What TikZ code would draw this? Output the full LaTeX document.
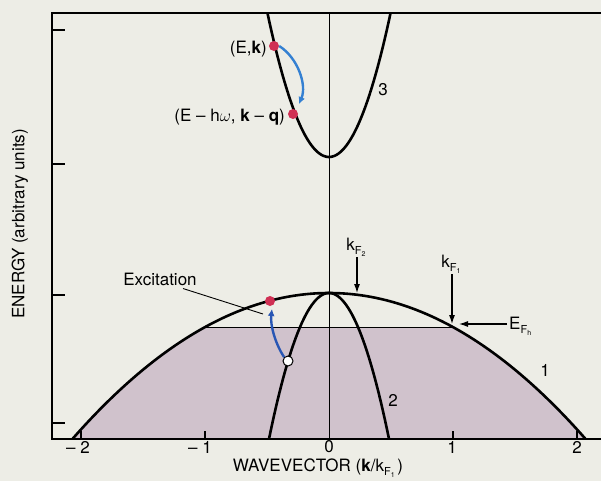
\documentclass[tikz,border=0pt]{standalone}
\usepackage{fontspec}
\setmainfont{TeX Gyre Heros}
\usetikzlibrary{arrows.meta}
\definecolor{bgcol}{RGB}{237,237,230}
\definecolor{shadecol}{RGB}{208,194,204}
\definecolor{dotred}{RGB}{208,48,84}
\definecolor{arrblue}{RGB}{52,128,210}
\definecolor{arrblueb}{RGB}{40,86,180}
\newcommand{\kFsub}[1]{k\raisebox{-0.45ex}{\fontsize{11}{12}\selectfont F\raisebox{-0.35ex}{\fontsize{7}{8}\selectfont #1}}}
\begin{document}
\begin{tikzpicture}[x=1pt,y=-1pt,
 lbl/.style={font=\fontsize{17}{20}\selectfont, inner sep=0pt},
 axisline/.style={line width=1.8pt},
 band/.style={line width=2.6pt, line join=round},
 hair/.style={line width=0.9pt},
 ptr/.style={line width=1.1pt, -{Latex[length=9pt,width=6pt]}},
 reddot/.style={circle, fill=dotred, minimum size=10pt, inner sep=0pt},
 opendot/.style={circle, draw=black, line width=1pt, fill=white, minimum size=10pt, inner sep=0pt},
 bluearr/.style={line width=2.4pt, arrblue, -{Latex[length=7pt,width=7pt]}},
 bluearrb/.style={line width=2.4pt, arrblueb, -{Latex[length=7pt,width=7pt]}},
]
\fill[bgcol] (0,0) rectangle (601,481);
\useasboundingbox (0,0) rectangle (601,481);
% shaded Fermi sea
\fill[shadecol] (205,327.1) -- (453,327.1)
  -- plot[domain=1:2.069,samples=40,variable=\t] ({329+124*\t},{293+34.1*\t*\t})
  -- plot[domain=-2.069:-1,samples=40,variable=\t] ({329+124*\t},{293+34.1*\t*\t}) -- cycle;
\draw[hair] (205,327.1) -- (453,327.1);
\draw[hair] (329,13) -- (329,439);
% bands
\draw[band] plot[domain=-2.069:2.069,samples=120,variable=\t] ({329+124*\t},{293+34.1*\t*\t});
\draw[band] plot[domain=-0.484:0.484,samples=60,variable=\t] ({329+124*\t},{293+623.4*\t*\t});
\draw[band] plot[domain=-0.4947:0.4947,samples=60,variable=\t] ({329+124*\t},{157-584.3*\t*\t});
% axes
\draw[axisline] (601,13) -- (52,13) -- (52,439) -- (601,439);
\foreach \y in {30,164,295,423} \draw[axisline] (52,\y) -- (65,\y);
\foreach \x in {81,205,453,577} \draw[axisline] (\x,439) -- (\x,431);
% dots
\node[reddot] (ek) at (274,46) {};
\node[reddot] (ekq) at (293,114) {};
\node[reddot] (ex) at (270,301) {};
\node[opendot] (hole) at (288,361) {};
\coordinate (ekqtip) at (299,104);
\coordinate (extip) at (272,309);
\draw[bluearr] (ek.east) .. controls (298,58) and (307,85) .. (ekqtip);
\draw[bluearrb] (hole.north west) .. controls (276,345) and (270,326) .. (extip);
% labels
\node[lbl, anchor=east] (lek) at (267,49) {(E,\textbf{k})};
\node[lbl, anchor=east] (lekq) at (285,117) {(E – h$\omega$, \textbf{k} – \textbf{q})};
\node[lbl] (exlbl) at (160,279) {Excitation};
\coordinate (exend) at (263,314);
\draw[hair] ([xshift=23pt,yshift=-3pt]exlbl.south) -- (exend);
\node[lbl, anchor=south] (kf2) at (356,257) {\kFsub{2}};
\coordinate (kf2tip) at (357,293);
\draw[ptr] (kf2.south -| kf2tip) -- (kf2tip);
\node[lbl, anchor=south] (kf1) at (451,274) {\kFsub{1}};
\coordinate (kf1tip) at (452,324);
\draw[ptr] (kf1.south -| kf1tip) -- (kf1tip);
\node[lbl, anchor=base west] (efh) at (509,329) {E\raisebox{-0.45ex}{\fontsize{11}{12}\selectfont F\raisebox{-0.35ex}{\fontsize{7}{8}\selectfont h}}};
\coordinate (eftip) at (459,324);
\draw[ptr] ([xshift=-2pt]efh.west |- eftip) -- (eftip);
\node[lbl] (c1) at (545,370) {1};
\node[lbl] (c2) at (393,400) {2};
\node[lbl] (c3) at (383,90) {3};
\node[lbl] (tm2) at (78,447) {– 2};
\node[lbl] (tm1) at (200,447) {– 1};
\node[lbl] (t0) at (329,447) {0};
\node[lbl] (t1) at (452,447) {1};
\node[lbl] (t2) at (577,447) {2};
\node[lbl, rotate=90] (ylab) at (20,224) {ENERGY (arbitrary units)};
\node[lbl] (xlab) at (318,468) {WAVEVECTOR (\textbf{k}/\kFsub{1}\,)};
\end{tikzpicture}
\end{document}
